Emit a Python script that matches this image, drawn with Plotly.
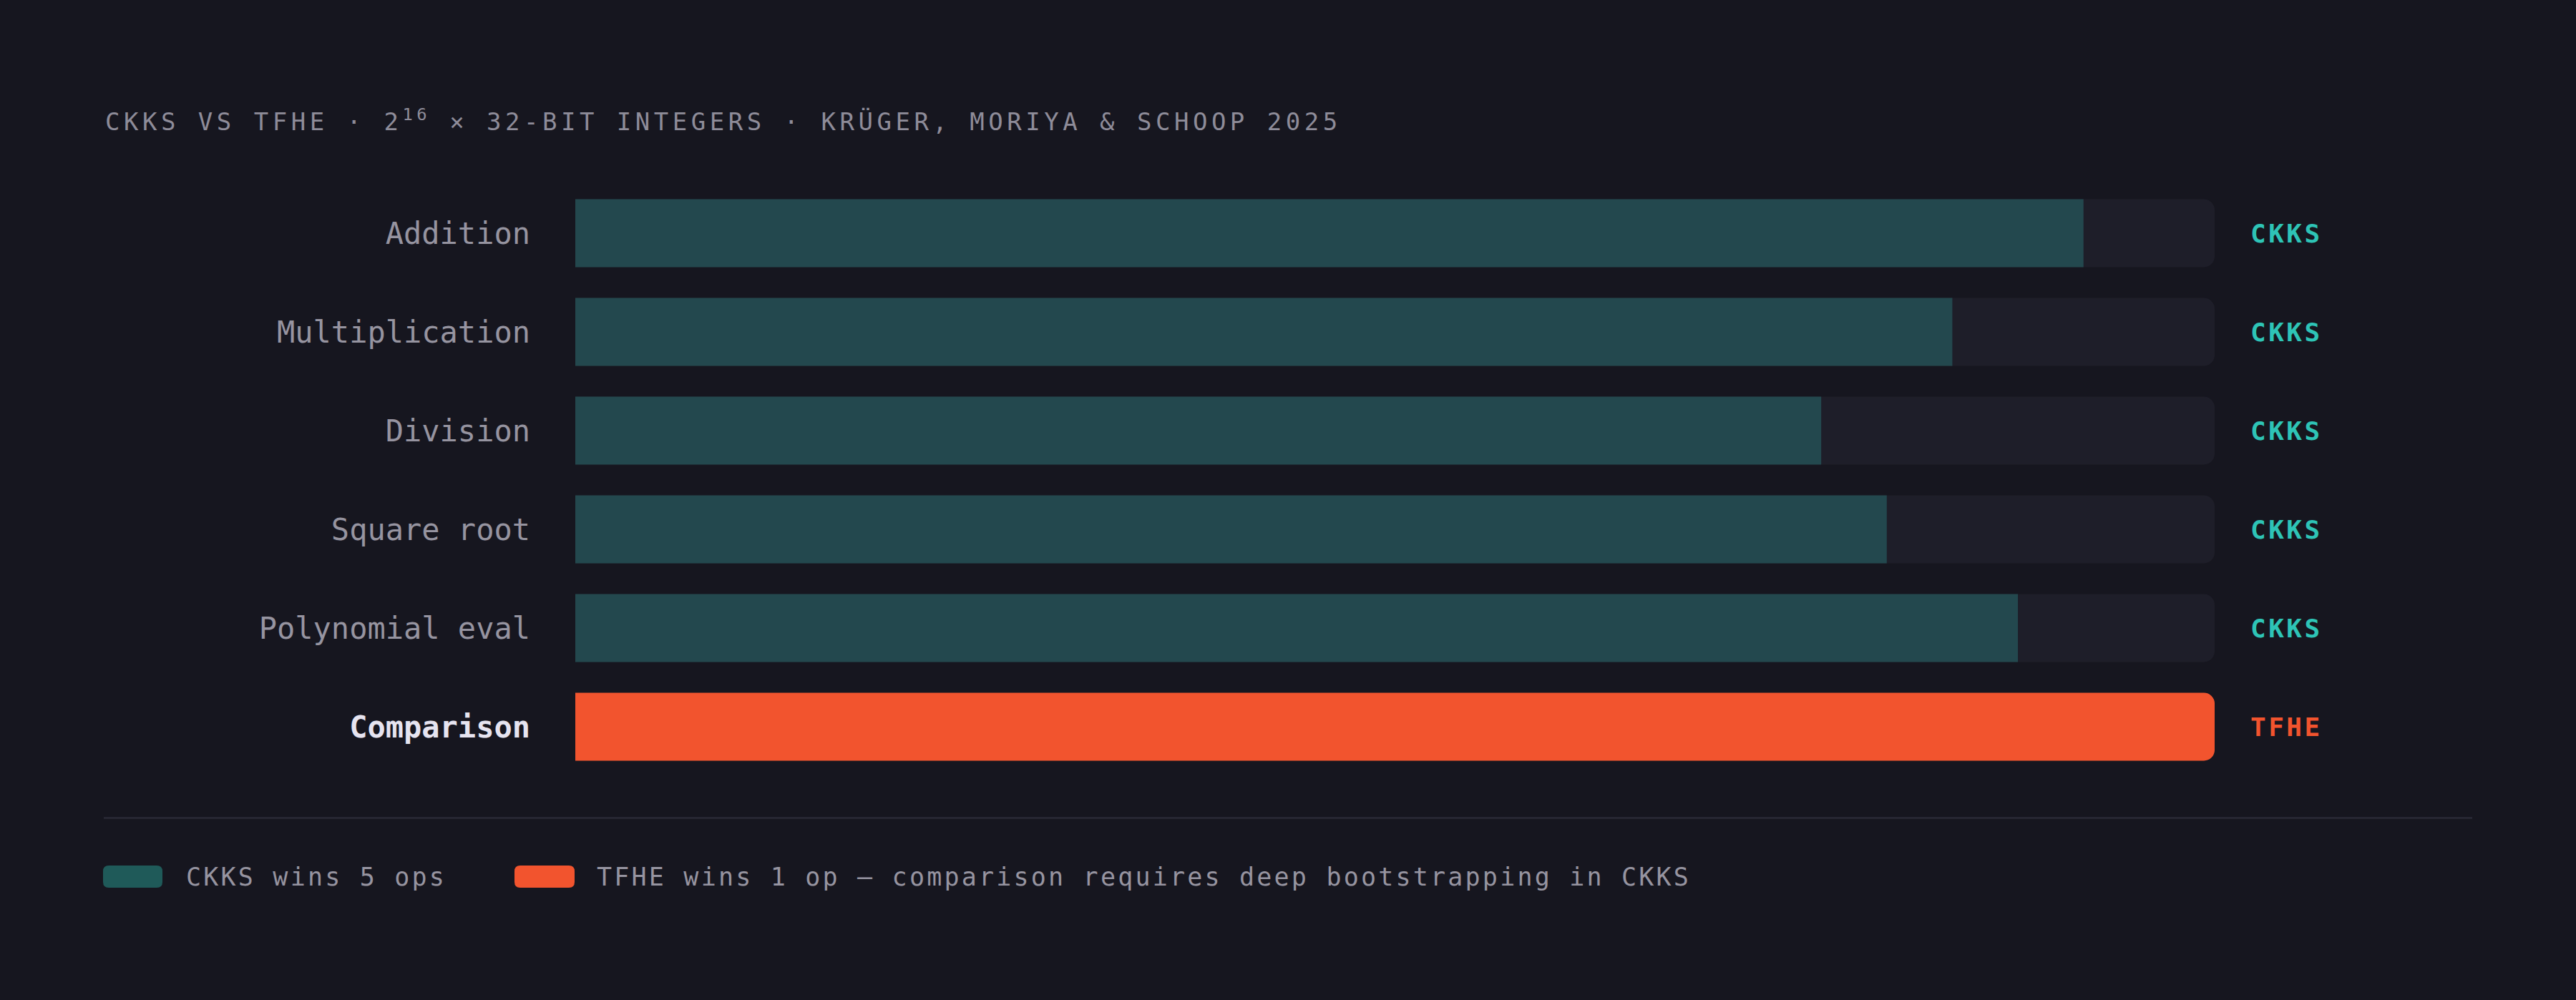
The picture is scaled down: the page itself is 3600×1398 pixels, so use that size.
import plotly.graph_objects as go

# ---- data ----
operations = ["Addition", "Multiplication", "Division", "Square root", "Polynomial eval", "Comparison"]
scores = [92, 84, 76, 80, 88, 100]
winners = ["CKKS", "CKKS", "CKKS", "CKKS", "CKKS", "TFHE"]
track_max = [100, 100, 100, 100, 100, 100]
title_text = "CKKS VS TFHE · 2<sup>16</sup> × 32-BIT INTEGERS · KRÜGER, MORIYA & SCHOOP 2025"
legend_labels = ["CKKS wins 5 ops", "TFHE wins 1 op — comparison requires deep bootstrapping in CKKS"]

# ---- style ----
W, H = 3600, 1398
BG = "#16161f"
TRACK = "#1e1e29"
TEAL_BAR = "#23484e"
TEAL_SWATCH = "#1f5a59"
ORANGE = "#f2542e"
TEAL_TEXT = "#2ec4b6"
LABEL = "#9694a0"
LABEL_HI = "#e6e4f0"
TITLE = "#8e8c99"
RULE = "#2a2a36"
FONT = "DejaVu Sans Mono, Liberation Mono, monospace"

ML, MR, MT, MB = 804, 505, 257, 313
PW, PH = W - ML - MR, H - MT - MB


def px(xp):
    return (xp - ML) / PW


def py(yp):
    return (H - MB - yp) / PH


def spaced(text, sp):
    return f'<span style="letter-spacing:{sp}px">{text}</span>'


bar_colors = [ORANGE if w == "TFHE" else TEAL_BAR for w in winners]
win_colors = [ORANGE if w == "TFHE" else TEAL_TEXT for w in winners]
ticktext = [f'<b><span style="color:{LABEL_HI}">{o}</span></b>' if w == "TFHE" else o
            for o, w in zip(operations, winners)]

fig = go.Figure()
fig.add_trace(go.Bar(
    y=operations, x=track_max, orientation="h", width=0.688,
    marker=dict(color=TRACK, cornerradius=15, line=dict(width=0)),
    hoverinfo="skip", showlegend=False,
))
fig.add_trace(go.Bar(
    y=operations, x=scores, orientation="h", width=0.688,
    marker=dict(color=bar_colors, cornerradius=15, line=dict(width=0)),
    showlegend=False,
))

annotations = []
for op, w, c in zip(operations, winners, win_colors):
    annotations.append(dict(
        x=100, y=op, xref="x", yref="y", xanchor="left", yanchor="middle",
        xshift=48, showarrow=False,
        text=f"<b>{spaced(w, 3.5)}</b>",
        font=dict(family=FONT, size=36, color=c),
    ))

# title
annotations.append(dict(
    x=px(145), y=py(168), xref="paper", yref="paper", xanchor="left", yanchor="middle",
    showarrow=False, text=spaced(title_text, 5.5),
    font=dict(family=FONT, size=34, color=TITLE),
))

# legend
shapes = []
sw_boxes = [(144, 227), (719, 803)]
sw_colors = [TEAL_SWATCH, ORANGE]
text_x = [258, 832]
ly0, ly1, r = 1210, 1241, 8
for (x0, x1), col, tx, lab in zip(sw_boxes, sw_colors, text_x, legend_labels):
    path = (f"M {px(x0 + r)} {py(ly0)} L {px(x1 - r)} {py(ly0)} "
            f"Q {px(x1)} {py(ly0)} {px(x1)} {py(ly0 + r)} L {px(x1)} {py(ly1 - r)} "
            f"Q {px(x1)} {py(ly1)} {px(x1 - r)} {py(ly1)} L {px(x0 + r)} {py(ly1)} "
            f"Q {px(x0)} {py(ly1)} {px(x0)} {py(ly1 - r)} L {px(x0)} {py(ly0 + r)} "
            f"Q {px(x0)} {py(ly0)} {px(x0 + r)} {py(ly0)} Z")
    shapes.append(dict(type="path", xref="paper", yref="paper", path=path,
                       fillcolor=col, line=dict(width=0), layer="above"))
    annotations.append(dict(
        x=px(tx), y=py(1225.5), xref="paper", yref="paper", xanchor="left", yanchor="middle",
        showarrow=False, text=spaced(lab, 3.2),
        font=dict(family=FONT, size=35, color=LABEL),
    ))

# separator rule
shapes.append(dict(type="line", xref="paper", yref="paper",
                   x0=px(145), x1=px(3455), y0=py(1143.5), y1=py(1143.5),
                   line=dict(color=RULE, width=2.5), layer="above"))

fig.update_layout(
    width=W, height=H,
    paper_bgcolor=BG, plot_bgcolor=BG,
    margin=dict(l=ML, r=MR, t=MT, b=MB, pad=0),
    barmode="overlay",
    showlegend=False,
    xaxis=dict(range=[0, 100], visible=False, fixedrange=True),
    yaxis=dict(
        type="category", categoryorder="array", categoryarray=operations,
        autorange="reversed", tickmode="array", tickvals=operations, ticktext=ticktext,
        showgrid=False, zeroline=False, showline=False, ticks="",
        ticklabelstandoff=62,
        tickfont=dict(family=FONT, size=42, color=LABEL),
        fixedrange=True,
    ),
    annotations=annotations,
    shapes=shapes,
)

fig.write_html(
    "out.html",
    config={"displayModeBar": False},
    post_script="document.body.style.margin='0';document.body.style.background='#16161f';"
                "document.documentElement.style.background='#16161f';",
)
